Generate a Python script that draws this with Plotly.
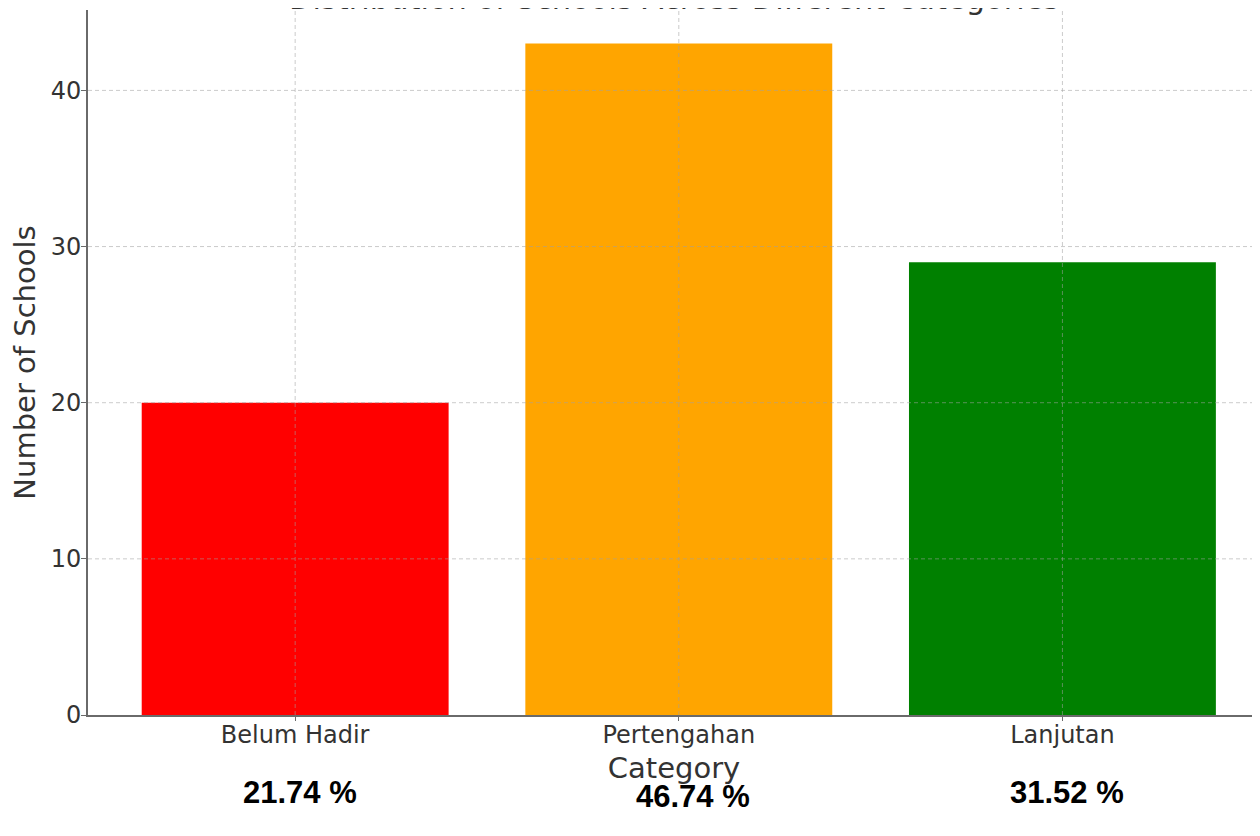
import plotly.graph_objects as go

categories = ["Belum Hadir", "Pertengahan", "Lanjutan"]
counts = [20, 43, 29]
percent_labels = ["21.74 %", "46.74 %", "31.52 %"]
bar_colors = ["#FF0000", "#FFA500", "#008000"]
y_ticks = [0, 10, 20, 30, 40]
title_text = "Distribution of Schools Across Different Categories"

W, H = 1260, 836
m_l, m_r, m_t, m_b = 80, 8, 2, 129

fig = go.Figure()
fig.add_trace(go.Bar(
    x=list(range(len(categories))), y=counts,
    marker=dict(color=bar_colors, line=dict(width=0)),
    width=0.8, showlegend=False,
))

grid_style = dict(color="rgba(160,160,160,0.55)", width=1, dash="4px,3px")
shapes = []
for i in range(len(categories)):
    shapes.append(dict(type="line", xref="x", yref="paper", x0=i, x1=i, y0=0, y1=1,
                       line=grid_style, layer="above"))
for t in y_ticks[1:]:
    shapes.append(dict(type="line", xref="paper", yref="y", x0=0, x1=1, y0=t, y1=t,
                       line=grid_style, layer="above"))

annotations = []
pct_dx = [0.013, 0.037, 0.012]
pct_dy = [58, 62, 58]
for i, lab in enumerate(percent_labels):
    annotations.append(dict(
        x=i + pct_dx[i], xref="x", y=0, yref="paper",
        yanchor="top", yshift=-pct_dy[i], showarrow=False,
        text="<b>" + lab + "</b>",
        font=dict(family="Liberation Sans, Arial", size=31, color="#000000"),
    ))
annotations.append(dict(
    x=0.5, xref="paper", y=1, yref="paper", yanchor="bottom", yshift=-8,
    showarrow=False, text=title_text,
    font=dict(family="DejaVu Sans", size=30.5, color="#333333"),
))

fig.update_layout(
    width=W, height=H,
    margin=dict(l=m_l, r=m_r, t=m_t, b=m_b, pad=0),
    paper_bgcolor="white", plot_bgcolor="white",
    font=dict(family="DejaVu Sans", color="#333333"),
    xaxis=dict(
        range=[-0.54, 2.515], tickmode="array",
        tickvals=list(range(len(categories))), ticktext=categories,
        showgrid=False, zeroline=False,
        showline=True, linecolor="#6a6a6a", linewidth=2,
        ticks="outside", ticklen=4, tickcolor="#6a6a6a",
        ticklabelstandoff=-7,
        tickfont=dict(size=24, color="#333333"),
        title=dict(text="Category", font=dict(size=29, color="#333333"), standoff=10),
    ),
    yaxis=dict(
        range=[0, 45.15], tickmode="array", tickvals=y_ticks,
        showgrid=False, zeroline=False,
        showline=True, linecolor="#6a6a6a", linewidth=2,
        ticks="outside", ticklen=5, tickcolor="#6a6a6a",
        ticklabelstandoff=-5,
        tickfont=dict(size=24, color="#333333"),
        title=dict(text="Number of Schools", font=dict(size=29, color="#333333"), standoff=7),
    ),
    shapes=shapes, annotations=annotations,
)

fig.write_html("out.html")
